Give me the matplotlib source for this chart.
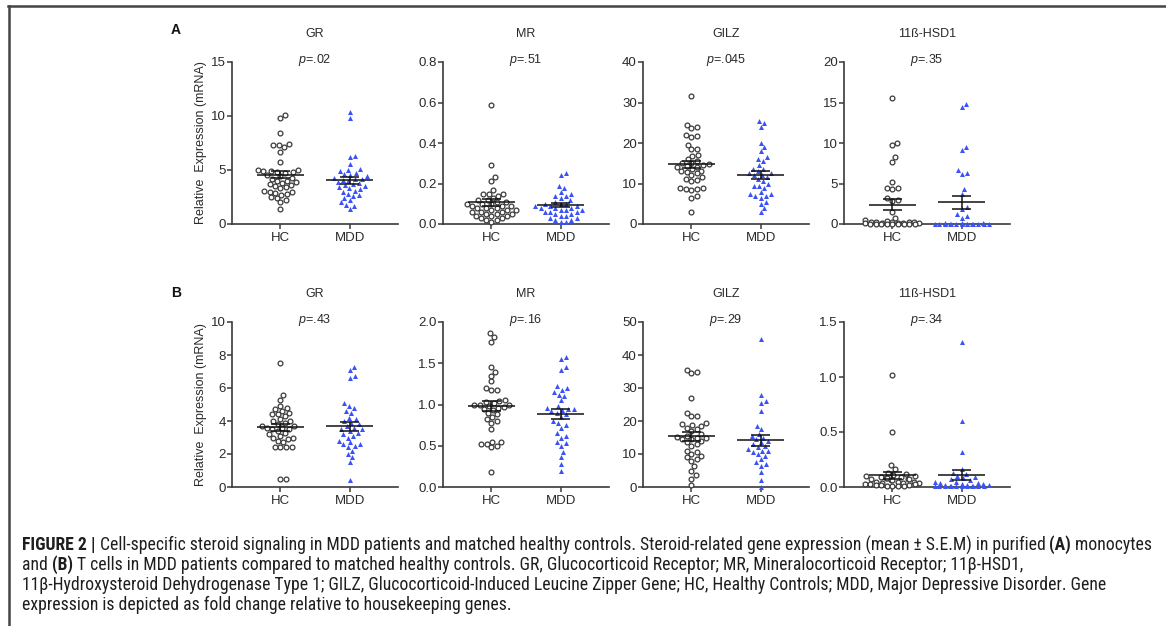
import numpy as np
import matplotlib
matplotlib.use("Agg")
import matplotlib.pyplot as plt
from matplotlib import font_manager
from matplotlib.lines import Line2D

plt.rcParams.update({
    "font.family": ["Liberation Sans", "DejaVu Sans"],
    "mathtext.fontset": "custom",
    "mathtext.rm": "Liberation Sans",
    "mathtext.it": "Liberation Sans:italic",
})

# ---- data ----
groups = ["HC", "MDD"]

# (A) monocytes
a_gr_hc = [10.1, 9.8, 8.4, 7.4, 7.3, 7.3, 7.1, 6.7, 5.7, 5.0, 5.0, 4.9, 4.9, 4.8, 4.8, 4.7, 4.5, 4.4,
           4.3, 4.2, 4.0, 4.0, 3.9, 3.8, 3.7, 3.6, 3.5, 3.4, 3.3, 3.1, 3.0, 3.0, 2.9, 2.8, 2.7, 2.5,
           2.4, 2.2, 2.0, 1.4]
a_gr_mdd = [10.4, 9.8, 6.3, 6.2, 5.6, 5.1, 5.0, 4.9, 4.7, 4.6, 4.5, 4.4, 4.3, 4.2, 4.2, 4.1, 4.0, 3.9,
            3.8, 3.7, 3.6, 3.5, 3.4, 3.3, 3.2, 3.1, 3.0, 2.8, 2.7, 2.6, 2.4, 2.2, 2.0, 1.8, 1.7, 1.4]
a_mr_hc = [0.59, 0.29, 0.23, 0.21, 0.17, 0.15, 0.15, 0.15, 0.14, 0.13, 0.12, 0.12, 0.11, 0.11, 0.10,
           0.10, 0.10, 0.09, 0.09, 0.09, 0.08, 0.08, 0.08, 0.07, 0.07, 0.07, 0.06, 0.06, 0.06, 0.05,
           0.05, 0.05, 0.04, 0.04, 0.04, 0.03, 0.03, 0.02, 0.02, 0.01]
a_mr_mdd = [0.25, 0.24, 0.19, 0.18, 0.16, 0.15, 0.14, 0.14, 0.13, 0.12, 0.11, 0.10, 0.10, 0.10, 0.09,
            0.09, 0.09, 0.08, 0.08, 0.08, 0.07, 0.07, 0.07, 0.06, 0.06, 0.06, 0.05, 0.05, 0.04, 0.04,
            0.03, 0.03, 0.02, 0.02, 0.01, 0.01]
a_gilz_hc = [31.5, 24.5, 24.0, 23.8, 22.0, 21.8, 21.5, 19.5, 18.5, 18.4, 17.0, 16.8, 16.0, 15.5, 15.0,
             15.0, 14.8, 14.5, 14.2, 14.0, 14.0, 13.5, 13.2, 13.0, 12.8, 12.5, 12.0, 11.5, 11.0, 10.8,
             10.5, 9.0, 8.8, 8.7, 8.6, 8.5, 7.0, 6.5, 3.0]
a_gilz_mdd = [25.5, 25.0, 24.0, 20.0, 19.0, 18.0, 16.5, 16.0, 15.5, 14.5, 13.5, 13.5, 13.0, 12.5, 12.5,
              12.0, 12.0, 11.5, 11.0, 10.5, 10.0, 9.5, 9.5, 9.0, 8.0, 7.5, 7.5, 7.0, 7.0, 6.5, 5.5,
              5.0, 4.0, 3.0]
a_hsd_hc = [15.6, 10.0, 9.7, 8.3, 7.7, 5.2, 4.5, 4.4, 4.3, 3.2, 3.0, 2.9, 1.5, 0.8, 0.5, 0.4, 0.3,
            0.3, 0.2, 0.2, 0.2, 0.1, 0.1, 0.1, 0.1, 0.1, 0.05, 0.05, 0.05, 0.05, 0.05, 0.05, 0.02,
            0.02, 0.02]
a_hsd_mdd = [14.8, 14.4, 9.5, 9.1, 6.7, 6.3, 6.2, 4.3, 3.7, 2.1, 1.8, 1.2, 1.0, 0.8, 0.1, 0.1, 0.1,
             0.05, 0.05, 0.05, 0.05, 0.05, 0.05, 0.02, 0.02, 0.02, 0.02, 0.02, 0.02, 0.02, 0.02]

# (B) T cells
b_gr_hc = [7.5, 5.6, 5.3, 4.9, 4.8, 4.7, 4.6, 4.5, 4.4, 4.4, 4.3, 4.1, 4.0, 4.0, 3.9, 3.8, 3.7, 3.7,
           3.6, 3.6, 3.5, 3.5, 3.4, 3.3, 3.2, 3.1, 3.0, 3.0, 2.9, 2.8, 2.7, 2.4, 2.4, 2.4, 2.4, 0.5,
           0.5]
b_gr_mdd = [7.3, 7.1, 6.7, 6.6, 5.1, 4.9, 4.8, 4.6, 4.5, 4.2, 4.1, 4.0, 3.9, 3.8, 3.7, 3.6, 3.5, 3.5,
            3.4, 3.3, 3.2, 3.1, 3.0, 2.8, 2.7, 2.6, 2.6, 2.5, 2.4, 2.2, 2.0, 1.8, 1.5, 0.4]
b_mr_hc = [1.87, 1.82, 1.76, 1.45, 1.40, 1.35, 1.28, 1.20, 1.18, 1.17, 1.05, 1.04, 1.03, 1.02, 1.00,
           1.00, 0.99, 0.98, 0.97, 0.96, 0.95, 0.93, 0.90, 0.88, 0.85, 0.82, 0.80, 0.78, 0.70, 0.55,
           0.54, 0.52, 0.52, 0.50, 0.48, 0.18]
b_mr_mdd = [1.58, 1.55, 1.45, 1.42, 1.22, 1.20, 1.18, 1.15, 1.12, 1.10, 1.05, 0.98, 0.96, 0.95, 0.94,
            0.93, 0.92, 0.90, 0.88, 0.85, 0.80, 0.78, 0.75, 0.72, 0.65, 0.62, 0.60, 0.55, 0.53, 0.50,
            0.42, 0.36, 0.28, 0.20]
b_gilz_hc = [35.5, 35.0, 34.5, 27.0, 22.5, 21.5, 21.5, 19.5, 19.0, 18.8, 18.5, 18.0, 17.5, 17.0, 16.0,
             15.5, 15.2, 15.0, 15.0, 14.5, 14.5, 14.0, 13.5, 13.0, 12.5, 11.0, 10.5, 10.0, 9.5, 9.0,
             8.5, 8.0, 6.5, 5.0, 3.5, 2.5, 0.5]
b_gilz_mdd = [45.0, 28.0, 26.0, 25.5, 23.0, 18.5, 17.5, 16.0, 15.5, 15.0, 14.5, 14.0, 13.5, 13.0, 12.5,
              12.0, 11.5, 11.0, 11.0, 10.5, 10.0, 9.5, 8.5, 7.5, 7.0, 6.5, 4.5, 2.0, 0.0]
b_hsd_hc = [1.02, 0.50, 0.20, 0.16, 0.13, 0.12, 0.11, 0.10, 0.10, 0.09, 0.09, 0.08, 0.08, 0.07, 0.07,
            0.07, 0.06, 0.06, 0.05, 0.05, 0.05, 0.04, 0.04, 0.04, 0.03, 0.03, 0.03, 0.02, 0.02, 0.02,
            0.01, 0.01, 0.01, 0.01]
b_hsd_mdd = [1.32, 0.60, 0.32, 0.16, 0.13, 0.12, 0.10, 0.09, 0.08, 0.07, 0.06, 0.05, 0.05, 0.04, 0.04,
             0.03, 0.03, 0.02, 0.02, 0.02, 0.01, 0.01, 0.01, 0.01, 0.01, 0.01, 0.01, 0.01, 0.01, 0.01,
             0.01, 0.01]

genes = ["GR", "MR", "GILZ", "11ß-HSD1"]
p_a = [".02", ".51", ".045", ".35"]
p_b = [".43", ".16", ".29", ".34"]
yticks_a = [[0, 5, 10, 15], [0.0, 0.2, 0.4, 0.6, 0.8], [0, 10, 20, 30, 40], [0, 5, 10, 15, 20]]
yticks_b = [[0, 2, 4, 6, 8, 10], [0.0, 0.5, 1.0, 1.5, 2.0], [0, 10, 20, 30, 40, 50], [0.0, 0.5, 1.0, 1.5]]
ytfmt_a = ["{:.0f}", "{:.1f}", "{:.0f}", "{:.0f}"]
ytfmt_b = ["{:.0f}", "{:.1f}", "{:.0f}", "{:.1f}"]

rows = [
    ("A", [(a_gr_hc, a_gr_mdd), (a_mr_hc, a_mr_mdd), (a_gilz_hc, a_gilz_mdd), (a_hsd_hc, a_hsd_mdd)],
     p_a, yticks_a, ytfmt_a),
    ("B", [(b_gr_hc, b_gr_mdd), (b_mr_hc, b_mr_mdd), (b_gilz_hc, b_gilz_mdd), (b_hsd_hc, b_hsd_mdd)],
     p_b, yticks_b, ytfmt_b),
]

W, H = 1166, 626
fig = plt.figure(figsize=(W / 100, H / 100), dpi=100)
fig.patch.set_facecolor("white")

AX_COLOR = "#3a3a3a"
TXT_COLOR = "#2a2a2a"
BLUE = "#3b52f6"
lefts_px = [232, 443, 643, 844]
row_px = [(62, 224), (322, 487)]  # (top, bottom) in pixels
AX_W = 166


def swarm(vals, d_px, ppu_x, ppu_y, max_w):
    """Beeswarm x offsets (data units) so markers of diameter d_px do not overlap."""
    vals = np.asarray(vals, float)
    xs = np.zeros(len(vals))
    placed = []
    grid = np.linspace(-max_w, max_w, 11)
    k = 0
    for i in np.argsort(vals):
        y = vals[i] * ppu_y
        near = [(px, py) for px, py in placed if abs(py - y) < d_px]
        cands = [0.0]
        for px, py in near:
            dx = np.sqrt(d_px ** 2 - (py - y) ** 2)
            cands += [px + dx, px - dx]
        cands = sorted([c for c in cands if abs(c) <= max_w], key=abs)
        chosen = None
        for c in cands:
            if all((c - px) ** 2 + (y - py) ** 2 >= d_px ** 2 - 1e-6 for px, py in near):
                chosen = c
                break
        if chosen is None:
            chosen = grid[(k * 7) % len(grid)]
            k += 1
        xs[i] = chosen / ppu_x
        placed.append((chosen, y))
    return xs


for r, (letter, panels, pvals, yticks, yfmt) in enumerate(rows):
    top, bot = row_px[r]
    for c, (hc, mdd) in enumerate(panels):
        ax = fig.add_axes([lefts_px[c] / W, 1 - bot / H, AX_W / W, (bot - top) / H])
        ymax = yticks[c][-1]
        ax.set_xlim(-0.7, 1.7)
        ax.set_ylim(0, ymax)
        ppu_x = ax.bbox.width / 2.4
        ppu_y = ax.bbox.height / ymax

        for gi, (vals, style) in enumerate([(hc, "hc"), (mdd, "mdd")]):
            vals = np.asarray(vals, float)
            off = swarm(vals, 5.6, ppu_x, ppu_y, 27)
            if style == "hc":
                ax.scatter(gi + off, vals, s=12, marker="o", facecolors="white",
                           edgecolors="#3a3a3a", linewidths=0.9, clip_on=False, zorder=3)
            else:
                ax.scatter(gi + off, vals, s=13, marker="^", color=BLUE,
                           linewidths=0, clip_on=False, zorder=3)
            m = vals.mean()
            sem = vals.std(ddof=1) / np.sqrt(len(vals))
            ax.hlines(m, gi - 0.34, gi + 0.34, color="#111111", lw=1.1, zorder=4)
            ax.vlines(gi, m - sem, m + sem, color="#111111", lw=1.1, zorder=4)
            ax.hlines([m - sem, m + sem], gi - 0.14, gi + 0.14, color="#111111", lw=1.1, zorder=4)

        for s in ["top", "right"]:
            ax.spines[s].set_visible(False)
        for s in ["left", "bottom"]:
            ax.spines[s].set_color(AX_COLOR)
            ax.spines[s].set_linewidth(1.2)
        ax.set_yticks(yticks[c])
        ax.set_yticklabels([yfmt[c].format(t) for t in yticks[c]])
        ax.set_xticks([0, 1])
        ax.set_xticklabels(groups)
        ax.tick_params(axis="both", colors=AX_COLOR, labelcolor=TXT_COLOR, labelsize=9.5,
                       width=1.1, length=3.5, pad=2)
        ax.tick_params(axis="y", pad=1)

        ax.annotate(genes[c], xy=(0.5, 1), xycoords="axes fraction", xytext=(0, 20),
                    textcoords="offset points", ha="center", va="center", fontsize=9,
                    color=TXT_COLOR)
        ax.annotate(f"$p$={pvals[c]}", xy=(0.5, 1), xycoords="axes fraction", xytext=(0, 1.5),
                    textcoords="offset points", ha="center", va="center", fontsize=9,
                    color=TXT_COLOR)
        if c == 0:
            ax.set_ylabel("Relative  Expression (mRNA)", fontsize=9, color=TXT_COLOR, labelpad=3)

    fig.text(176 / W, 1 - (30 if r == 0 else 293) / H, letter, fontsize=10, fontweight="bold",
             ha="center", va="center", color="#111111")

# frame lines
fig.add_artist(Line2D([8 / W, 1], [1 - 6 / H, 1 - 6 / H], transform=fig.transFigure,
                      color="#444444", lw=1.8))
fig.add_artist(Line2D([9 / W, 9 / W], [1 - 6 / H, 0], transform=fig.transFigure,
                      color="#444444", lw=1.8))

# caption
cap_family = ["Liberation Sans"]
for fam in ["Liberation Sans Narrow", "Roboto Condensed", "Open Sans Condensed"]:
    try:
        font_manager.findfont(font_manager.FontProperties(family=fam), fallback_to_default=False)
        cap_family = [fam]
        break
    except Exception:
        pass
cap_family = cap_family + ["DejaVu Sans"]

caption = [
    [("FIGURE 2 |", True),
     (" Cell-specific steroid signaling in MDD patients and matched healthy controls. Steroid-related gene "
      "expression (mean ± S.E.M) in purified ", False), ("(A)", True), (" monocytes", False)],
    [("and ", False), ("(B)", True),
     (" T cells in MDD patients compared to matched healthy controls. GR, Glucocorticoid Receptor; MR, "
      "Mineralocorticoid Receptor; 11β-HSD1,", False)],
    [("11β-Hydroxysteroid Dehydrogenase Type 1; GILZ, Glucocorticoid-Induced Leucine Zipper Gene; HC, "
      "Healthy Controls; MDD, Major Depressive Disorder. Gene", False)],
    [("expression is depicted as fold change relative to housekeeping genes.", False)],
]
cap_y = [545, 565, 585, 605]
renderer = fig.canvas.get_renderer()


def draw_line(pieces, y, size, dry=False):
    x = 22
    arts = []
    for txt, bold in pieces:
        t = fig.text(x / W, 1 - y / H, txt, fontsize=size, family=cap_family,
                     fontweight="bold" if bold else "normal", ha="left", va="center",
                     color="#1e1e1e")
        bb = t.get_window_extent(renderer)
        x = bb.x1
        arts.append(t)
    if dry:
        for t in arts:
            t.remove()
    return x


# fit the caption size so the first line spans the same width as the reference
size = 9.5
end = draw_line(caption[0], cap_y[0], size, dry=True)
size = size * (1150 - 22) / (end - 22)
for pieces, y in zip(caption, cap_y):
    draw_line(pieces, y, size)

fig.savefig("out.png", dpi=100, facecolor="white")
